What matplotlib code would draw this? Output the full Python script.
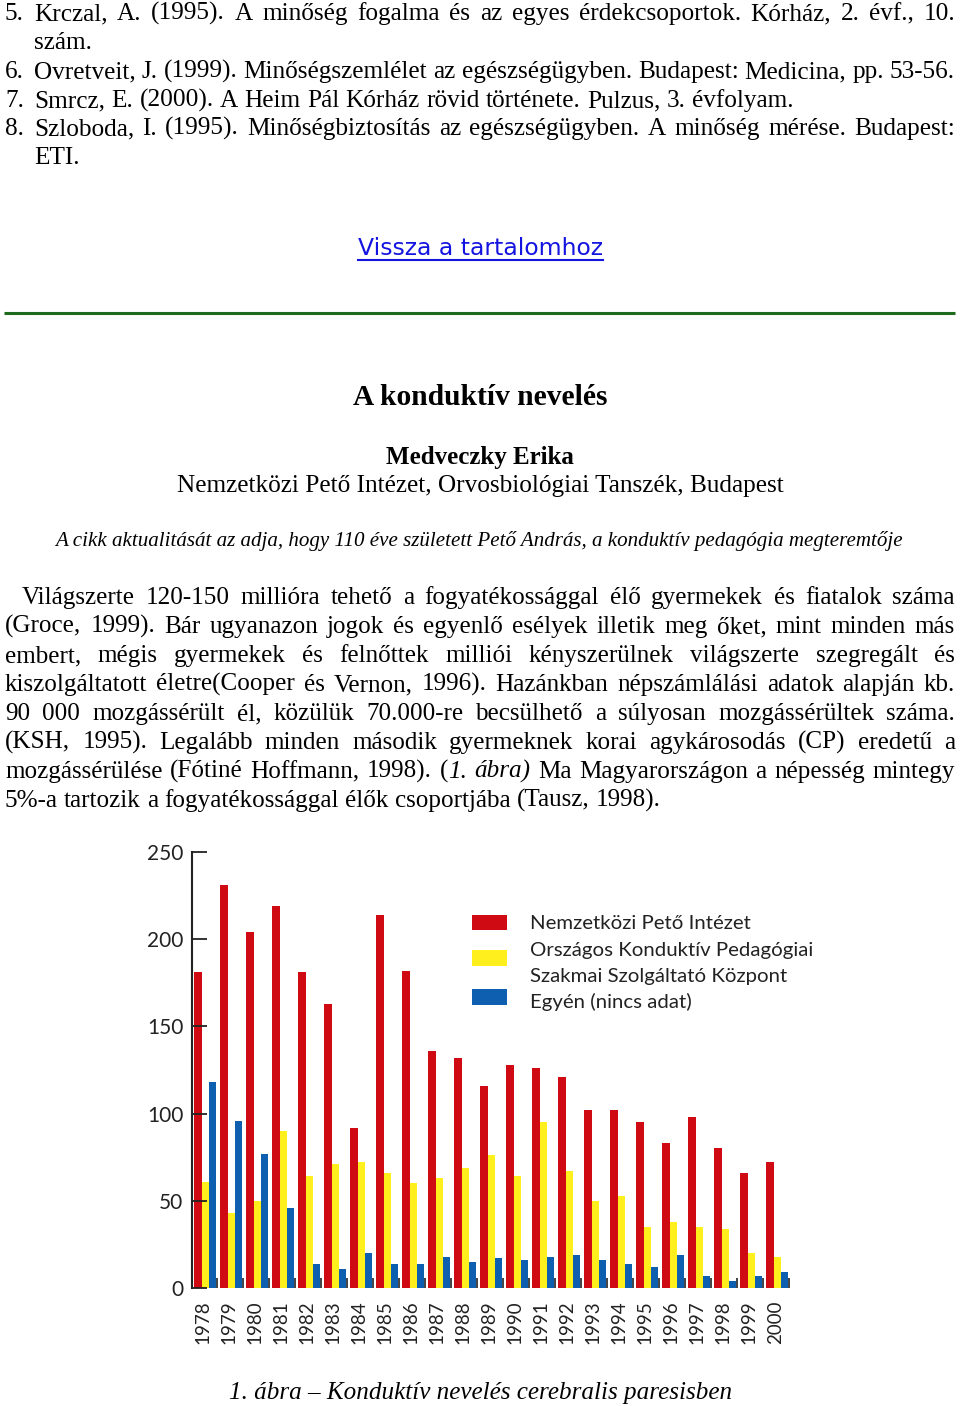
import matplotlib
matplotlib.use('Agg')
import matplotlib.pyplot as plt
from matplotlib.patches import Rectangle
from matplotlib.lines import Line2D

# ---------------- data ----------------
years = [str(y) for y in range(1978, 2001)]
peto = [181, 231, 204, 219, 181, 163, 92, 214, 182, 136, 132,
        116, 128, 126, 121, 102, 102, 95, 83, 98, 80, 66, 72]
okp = [61, 43, 50, 90, 64, 71, 72, 66, 60, 63, 69,
       76, 64, 95, 67, 50, 53, 35, 38, 35, 34, 20, 18]
egyen = [118, 96, 77, 46, 14, 11, 20, 14, 14, 18, 15,
         17, 16, 18, 19, 16, 14, 12, 19, 7, 4, 7, 9]
yticks = [0, 50, 100, 150, 200, 250]
legend_labels = ["Nemzetközi Pető Intézet", "Országos Konduktív Pedagógiai",
                 "Szakmai Szolgáltató Központ", "Egyén (nincs adat)"]

refs = [
    ("5.", "Krczal, A. (1995). A minőség fogalma és az egyes érdekcsoportok. Kórház, 2. évf., 10.", True),
    ("", "szám.", False),
    ("6.", "Ovretveit, J. (1999). Minőségszemlélet az egészségügyben. Budapest: Medicina, pp. 53-56.", True),
    ("7.", "Smrcz, E. (2000). A Heim Pál Kórház rövid története. Pulzus, 3. évfolyam.", False),
    ("8.", "Szloboda, I. (1995). Minőségbiztosítás az egészségügyben. A minőség mérése. Budapest:", True),
    ("", "ETI.", False),
]
para = [
    "Világszerte 120-150 millióra tehető a fogyatékossággal élő gyermekek és fiatalok száma",
    "(Groce, 1999). Bár ugyanazon jogok és egyenlő esélyek illetik meg őket, mint minden más",
    "embert, mégis gyermekek és felnőttek milliói kényszerülnek világszerte szegregált és",
    "kiszolgáltatott életre(Cooper és Vernon, 1996). Hazánkban népszámlálási adatok alapján kb.",
    "90 000 mozgássérült él, közülük 70.000-re becsülhető a súlyosan mozgássérültek száma.",
    "(KSH, 1995). Legalább minden második gyermeknek korai agykárosodás (CP) eredetű a",
    "mozgássérülése (Fótiné Hoffmann, 1998). (*1. ábra)* Ma Magyarországon a népesség mintegy",
    "5%-a tartozik a fogyatékossággal élők csoportjába (Tausz, 1998).",
]

RED = '#CF0A12'
YEL = '#FFEF1C'
BLU = '#0F5FB0'
SERIF = 'Liberation Serif'
SANS = 'Lato'

W, H = 960, 1406
fig = plt.figure(figsize=(W / 100, H / 100), dpi=100)
fig.patch.set_facecolor('white')
ov = fig.add_axes([0, 0, 1, 1], zorder=0)
ov.set_xlim(0, W)
ov.set_ylim(H, 0)
ov.axis('off')
r = fig.canvas.get_renderer()


def width_of(text, size, **kw):
    t = ov.text(0, 0, text, fontsize=size, **kw)
    w = t.get_window_extent(renderer=r).width
    t.remove()
    return w


def fit(text, target, **kw):
    return 20 * target / width_of(text, 20, **kw)


def parse_word(word, italic):
    segs = []
    cur = ''
    for ch in word:
        if ch == '*':
            if cur:
                segs.append((cur, italic))
            cur = ''
            italic = not italic
        else:
            cur += ch
    if cur:
        segs.append((cur, italic))
    return segs, italic


def draw_line(line, x0, x1, y, size, justify, family=SERIF):
    words = []
    italic = False
    for w in line.split(' '):
        segs, italic = parse_word(w, italic)
        words.append(segs)
    widths = []
    for segs in words:
        widths.append([width_of(s, size, family=family,
                                style='italic' if it else 'normal') for s, it in segs])
    total = sum(sum(ws) for ws in widths)
    if justify and len(words) > 1:
        gap = (x1 - x0 - total) / (len(words) - 1)
    else:
        gap = width_of('a b', size, family=family) - width_of('ab', size, family=family)
    x = x0
    for segs, ws in zip(words, widths):
        for (s, it), w in zip(segs, ws):
            ov.text(x, y, s, fontsize=size, family=family,
                    style='italic' if it else 'normal', ha='left', va='baseline')
            x += w
        x += gap


# ---------------- references ----------------
ref_size = fit("Smrcz, E. (2000). A Heim Pál Kórház rövid története. Pulzus, 3. évfolyam.", 756,
               family=SERIF)
ybase = [20, 49, 78, 107, 135, 164]
for (num, txt, just), yb in zip(refs, ybase):
    if num:
        ov.text(5, yb, num, fontsize=ref_size, family=SERIF, ha='left', va='baseline')
    draw_line(txt, 34, 955, yb, ref_size, just)

# ---------------- link + rule ----------------
link = "Vissza a tartalomhoz"
ls = fit(link, 245, family='DejaVu Sans')
ov.text(480, 255, link, fontsize=ls, family='DejaVu Sans', color='#1414E0',
        ha='center', va='baseline')
ov.add_line(Line2D([358, 603], [259.5, 259.5], color='#1414E0', lw=1.5))
ov.add_line(Line2D([4, 955], [313, 313], color='#1E6A1E', lw=2.2, solid_capstyle='butt'))

# ---------------- headings ----------------
t1 = "A konduktív nevelés"
ov.text(480, 405, t1, fontsize=fit(t1, 254, family=SERIF, weight='bold'),
        family=SERIF, weight='bold', ha='center', va='baseline')
t2 = "Medveczky Erika"
ov.text(480, 464, t2, fontsize=fit(t2, 188, family=SERIF, weight='bold'),
        family=SERIF, weight='bold', ha='center', va='baseline')
t3 = "Nemzetközi Pető Intézet, Orvosbiológiai Tanszék, Budapest"
ov.text(480, 492, t3, fontsize=fit(t3, 607, family=SERIF),
        family=SERIF, ha='center', va='baseline')
t4 = "A cikk aktualitását az adja, hogy 110 éve született Pető András, a konduktív pedagógia megteremtője"
ov.text(479, 546, t4, fontsize=fit(t4, 848, family=SERIF, style='italic'),
        family=SERIF, style='italic', ha='center', va='baseline')

# ---------------- paragraph ----------------
psize = fit(para[-1], 657, family=SERIF)
pbase = [604, 633, 662, 691, 720, 749, 778, 807]
for i, (line, yb) in enumerate(zip(para, pbase)):
    x0 = 22 if i == 0 else 5
    draw_line(line, x0, 955, yb, psize, i < len(para) - 1)

# ---------------- caption ----------------
cap = "1. ábra – Konduktív nevelés cerebralis paresisben"
ov.text(480.5, 1399, cap, fontsize=fit(cap, 503, family=SERIF, style='italic'),
        family=SERIF, style='italic', ha='center', va='baseline')

# ---------------- chart ----------------
x_left, x_right = 191.7, 795.0
y_top, y_bot = 852.0, 1288.0
ax = fig.add_axes([x_left / W, 1 - y_bot / H, (x_right - x_left) / W, (y_bot - y_top) / H],
                  zorder=1)
ax.patch.set_alpha(0)
bw = 0.281
xs = list(range(len(years)))
ax.bar([x - bw for x in xs], peto, width=bw, color=RED, linewidth=0)
ax.bar(xs, okp, width=bw, color=YEL, linewidth=0)
ax.bar([x + bw for x in xs], egyen, width=bw, color=BLU, linewidth=0)
ax.set_xlim(-0.523, 22.68)
ax.set_ylim(0, 250)
for s in ['top', 'right', 'bottom']:
    ax.spines[s].set_visible(False)
ax.spines['left'].set_linewidth(1.5)
ax.spines['left'].set_color('#222222')
ax.set_yticks(yticks)
ax.set_yticklabels([str(v) for v in yticks], fontfamily=SANS, fontsize=15, color='#222222')
ax.tick_params(axis='y', direction='in', length=10.5, width=1.3, pad=6, color='#222222')
ax.set_xticks([x - 0.08 for x in xs])
ax.set_xticklabels(years, rotation=90, fontfamily=SANS, fontsize=13.5, color='#222222')
ax.tick_params(axis='x', which='major', length=0, pad=9)
ax.set_xticks([x + 0.46 for x in xs], minor=True)
ax.tick_params(axis='x', which='minor', direction='in', length=7.5, width=1.2, color='#222222')

# legend (drawn in page pixel coordinates)
lsize = fit(legend_labels[0], 222, family=SANS)
for (yy, hh), c in zip([(915, 15), (950, 16), (989, 16)], [RED, YEL, BLU]):
    ov.add_patch(Rectangle((472, yy), 35, hh, facecolor=c, edgecolor='none', zorder=3))
for lab, yb in zip(legend_labels, [929, 956, 982, 1008]):
    ov.text(530, yb, lab, fontsize=lsize, family=SANS, color='#222222',
            ha='left', va='baseline')

fig.savefig('out.png', dpi=100, facecolor='white')
